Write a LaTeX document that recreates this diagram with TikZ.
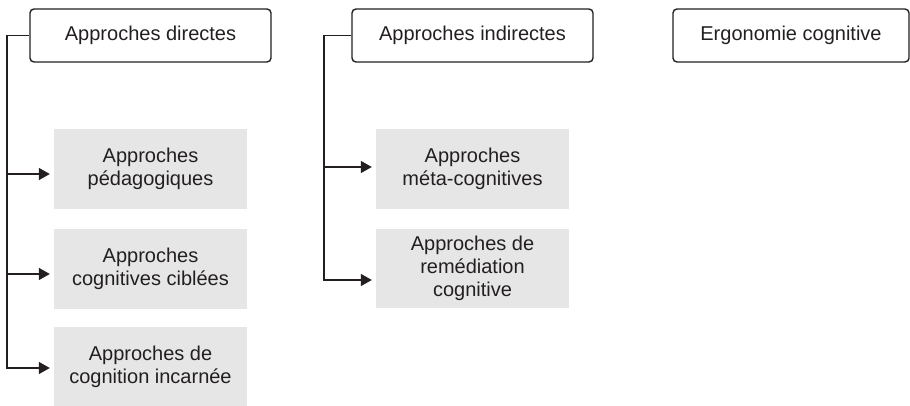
\documentclass[tikz,border=0pt]{standalone}
\usepackage{fontspec}
\setmainfont{Liberation Sans}
\usetikzlibrary{arrows.meta}
\definecolor{ink}{HTML}{231F20}
\definecolor{graybox}{HTML}{E6E6E6}
\begin{document}
\begin{tikzpicture}[x=1pt,y=-1pt,
  every node/.style={font=\fontsize{20}{23}\selectfont, text=ink, align=center, inner sep=0pt},
  headbox/.style={draw=ink, line width=1.4pt, rounded corners=4pt, minimum height=53pt},
  subbox/.style={fill=graybox, minimum width=193pt},
  conn/.style={draw=ink, line width=1.4pt},
  arr/.style={conn, -{Triangle[length=11pt,width=12pt]}, shorten >=4pt}]
\useasboundingbox (0,0) rectangle (910,406);
% headers
\node[headbox, minimum width=241pt] (d1) at (150.5,35.5) {Approches directes};
\node[headbox, minimum width=241pt] (d2) at (472.5,35.5) {Approches indirectes};
\node[headbox, minimum width=236pt] (d3) at (791,35.5) {Ergonomie cognitive};
% left column
\node[subbox, minimum height=80pt] (p1) at (150.5,169) {Approches\\pédagogiques};
\node[subbox, minimum height=80pt] (p2) at (150.5,269) {Approches\\cognitives ciblées};
\node[subbox, minimum height=79pt] (p3) at (150.5,366.5) {Approches de\\cognition incarnée};
% middle column
\node[subbox, minimum height=80pt] (q1) at (472.5,169) {Approches\\méta-cognitives};
\node[subbox, minimum height=79pt] (q2) at (472.5,268.5) {Approches de\\remédiation\\cognitive};
% connectors left
\coordinate (tl) at (7,35.5);
\draw[arr] (d1.west) -- (tl) |- ([yshift=-1.5pt]p3.west);
\draw[arr] ([yshift=-5pt]p1.west -| tl) -- ([yshift=-5pt]p1.west);
\draw[arr] ([yshift=-5pt]p2.west -| tl) -- ([yshift=-5pt]p2.west);
% connectors middle
\coordinate (tm) at (324,35.5);
\draw[arr] (d2.west) -- (tm) |- ([yshift=-11.5pt]q2.west);
\draw[arr] ([yshift=2pt]q1.west -| tm) -- ([yshift=2pt]q1.west);
\end{tikzpicture}
\end{document}
